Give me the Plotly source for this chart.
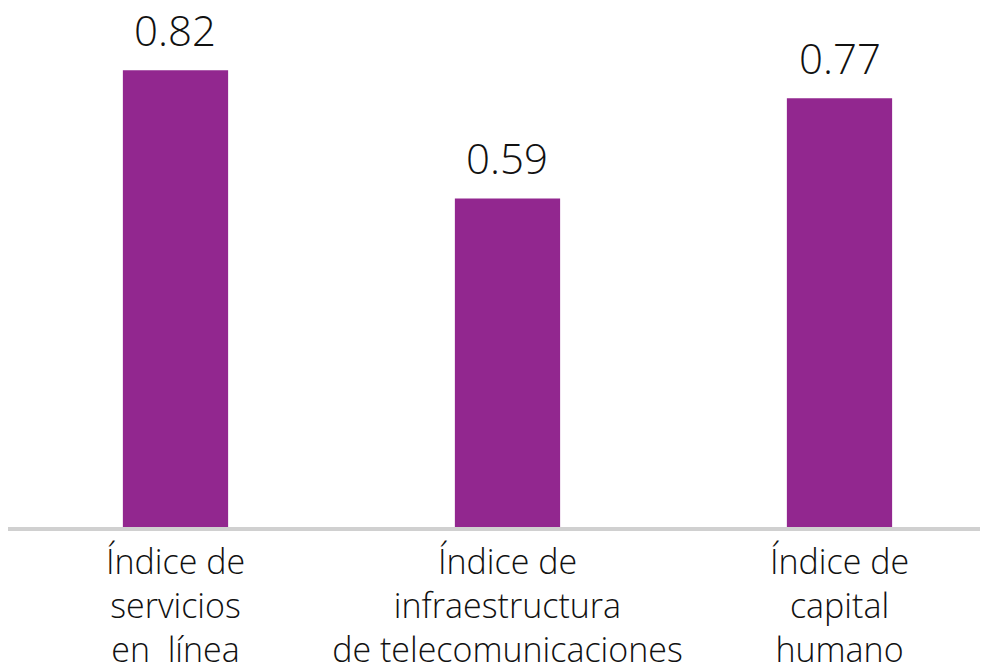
import plotly.graph_objects as go

categories = [
    "Índice de<br>servicios<br>en\u00a0 línea",
    "Índice de<br>infraestructura<br>de telecomunicaciones",
    "Índice de<br>capital<br>humano",
]
values = [0.82, 0.59, 0.77]
value_labels = ["0.82", "0.59", "0.77"]

bar_color = "#92278f"
font_family = "'Open Sans', Lato, sans-serif"

fig = go.Figure()
fig.add_trace(
    go.Bar(
        x=[0, 1, 2],
        y=values,
        marker_color=bar_color,
        marker_line_width=0,
        width=0.317,
        hoverinfo="y",
    )
)

for i, (v, lbl) in enumerate(zip(values, value_labels)):
    fig.add_annotation(
        x=i, y=v, text=lbl, showarrow=False, yanchor="bottom", yshift=10,
        font=dict(size=42, color="#111111", family=font_family, weight=300),
    )

# page body adds 8px offset, so the plot is placed with zero left/top margin
fig.update_layout(
    width=988,
    height=664,
    margin=dict(l=0, r=0, t=0, b=145),
    paper_bgcolor="white",
    plot_bgcolor="white",
    showlegend=False,
    font=dict(family=font_family, color="#111111"),
    xaxis=dict(
        range=[-0.5045, 2.4714],
        tickmode="array",
        tickvals=[0, 1, 2],
        ticktext=categories,
        tickfont=dict(size=34, family=font_family, weight=300),
        ticklabelstandoff=2,
        automargin=False,
        showline=True,
        linecolor="#d0d0d0",
        linewidth=4,
        showgrid=False,
        zeroline=False,
        ticks="",
    ),
    yaxis=dict(
        range=[0, 0.932],
        visible=False,
        automargin=False,
        showgrid=False,
        zeroline=False,
    ),
)

fig.write_html("out.html")
